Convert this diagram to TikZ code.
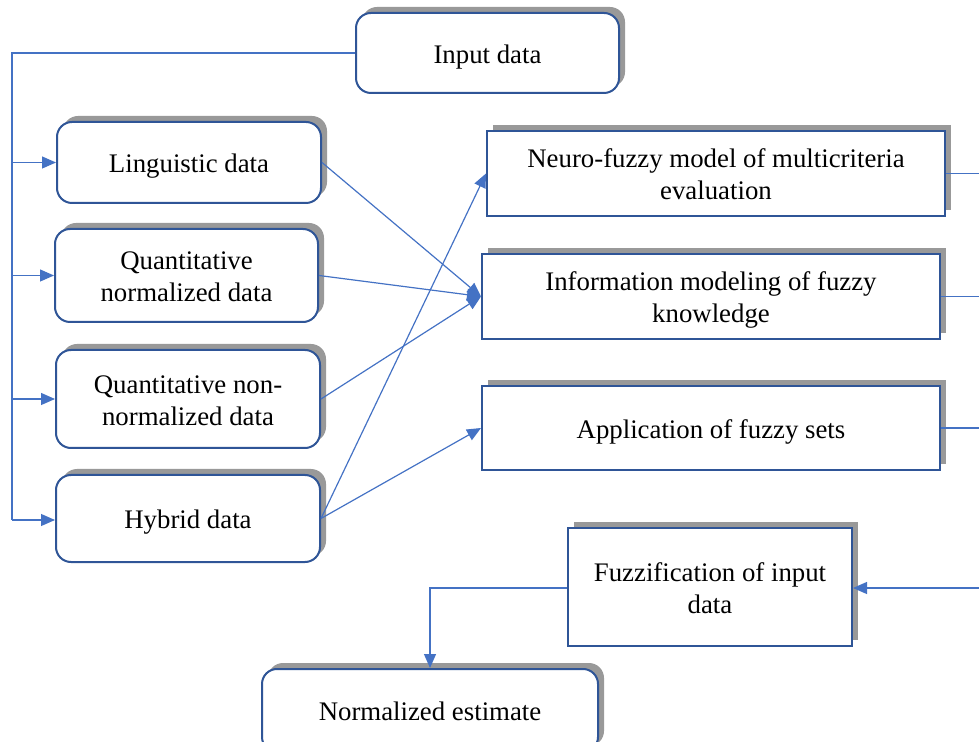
\documentclass[tikz,border=0pt]{standalone}
\usepackage{fontspec}
\setmainfont{Liberation Serif}
\usetikzlibrary{arrows.meta,shadows}
\definecolor{lineblue}{HTML}{4472C4}
\definecolor{boxblue}{HTML}{2F5597}
\definecolor{shadowgray}{HTML}{999999}
\newcommand{\dn}[1]{\raisebox{-2pt}[\height][\depth]{\begin{tabular}{@{}c@{}}#1\end{tabular}}}
\begin{document}
\begin{tikzpicture}[x=0.5pt,y=-0.5pt,
  base/.style={draw=boxblue, line width=1pt, fill=white, align=center, inner sep=0pt,
    font=\fontsize{13.4pt}{16pt}\selectfont, text=black,
    general shadow={fill=shadowgray, shadow xshift=3pt, shadow yshift=3pt}},
  rbox/.style={base, rounded corners=7.5pt},
  sbox/.style={base},
  conn/.style={draw=lineblue, line width=0.6pt},
  arr/.style={conn, -{Triangle[length=7pt,width=6pt]}}]
\useasboundingbox (0,0) rectangle (979,742);
\clip (0,0) rectangle (979,742);
\node[rbox, minimum width=131.5pt, minimum height=40pt] (input) at (487.5,53) {\dn{Input data}};
\node[rbox, minimum width=132pt, minimum height=40.5pt] (ling) at (189,162.5) {\dn{Linguistic data}};
\node[rbox, minimum width=131.5pt, minimum height=46.5pt] (qn) at (186.5,275.5) {\dn{Quantitative\\normalized data}};
\node[rbox, minimum width=132pt, minimum height=49pt] (qnn) at (188,399) {\dn{Quantitative non-\\normalized data}};
\node[rbox, minimum width=132pt, minimum height=43.5pt] (hyb) at (188,518.5) {\dn{Hybrid data}};
\node[sbox, minimum width=229pt, minimum height=42.5pt] (neuro) at (716,173.5) {\dn{Neuro-fuzzy model of multicriteria\\evaluation}};
\node[sbox, minimum width=229pt, minimum height=42.5pt] (info) at (711,296.5) {\dn{Information modeling of fuzzy\\knowledge}};
\node[sbox, minimum width=229pt, minimum height=42pt] (app) at (711,428) {\dn{Application of fuzzy sets}};
\node[sbox, minimum width=142pt, minimum height=59pt] (fuzz) at (710,587) {\dn{Fuzzification of input\\data}};
\node[rbox, minimum width=168pt, minimum height=41.5pt] (norm) at (430,710.5) {\dn{Normalized estimate}};
\coordinate (tl) at (12,53);
\coordinate (bl) at (12,520);
\coordinate (r1) at (980,173.5);
\coordinate (r2) at (980,296.5);
\coordinate (r3) at (980,428);
\coordinate (r4) at (980,588);
\draw[conn, line width=0.9pt] (input.west) -- (tl) -- (bl);
\draw[arr] (tl |- ling.west) -- (ling.west);
\draw[arr] (tl |- qn.west) -- (qn.west);
\draw[arr] (tl |- qnn.west) -- (qnn.west);
\draw[arr] (bl) -- (bl -| hyb.west);
\draw[arr] (ling.east) -- (info.west);
\draw[arr] (qn.east) -- (info.west);
\draw[arr] (qnn.east) -- (info.west);
\draw[arr] (hyb.east) -- (neuro.west);
\draw[arr] (hyb.east) -- (app.west);
\draw[conn] (neuro.east) -- (r1);
\draw[conn] (info.east) -- (r2);
\draw[conn] (app.east) -- (r3);
\draw[arr] (r4) -- (fuzz.east |- r4);
\draw[arr] (fuzz.west |- r4) -| (norm.north);
\end{tikzpicture}
\end{document}
